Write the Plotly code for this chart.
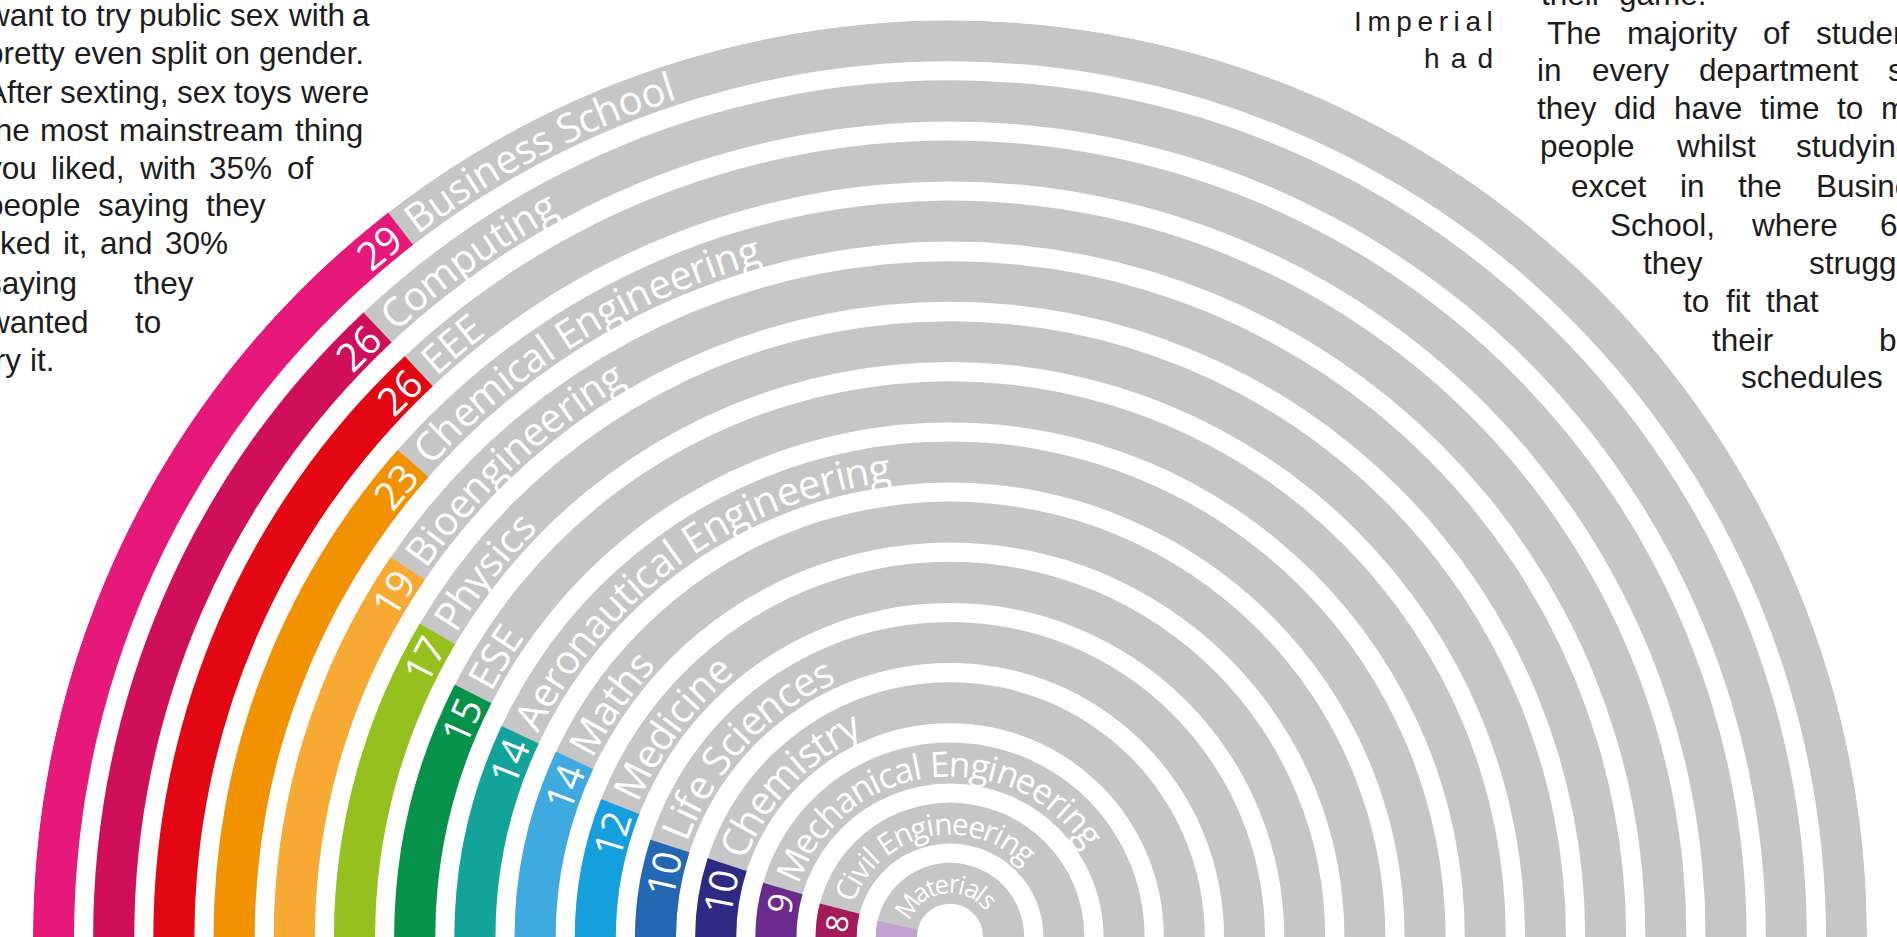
import math
import plotly.graph_objects as go

# ---------------------------------------------------------------- data
departments = [
    "Business School", "Computing", "EEE", "Chemical Engineering",
    "Bioengineering", "Physics", "ESE", "Aeronautical Engineering",
    "Maths", "Medicine", "Life Sciences", "Chemistry",
    "Mechanical Engineering", "Civil Engineering", "Materials",
]
percent = [29, 26, 26, 23, 19, 17, 15, 14, 14, 12, 10, 10, 9, 8, 7]
ring_colors = [
    "#E6197B", "#CF0F5B", "#E30613", "#F39200", "#F7A934",
    "#95C11F", "#07924A", "#14A39B", "#3FAADF", "#169FDD",
    "#2467B2", "#2C2A83", "#6B2A8C", "#A6195A", "#C4A2D0",
]

left_lines = [
    "want to try public sex with a",
    "pretty even split on gender.",
    "After sexting, sex toys were",
    "the most mainstream thing",
    "you liked, with 35% of",
    "people saying they",
    "liked it, and 30%",
    "saying they",
    "wanted to",
    "try it.",
]

right_lines = [
    ["their", "game."],
    ["The", "majority", "of", "students"],
    ["in", "every", "department", "said"],
    ["they", "did", "have", "time", "to", "meet"],
    ["people", "whilst", "studying,"],
    ["excet", "in", "the", "Business"],
    ["School,", "where", "6"],
    ["they", "struggled"],
    ["to", "fit", "that"],
    ["their", "busy"],
    ["schedules"],
]
side_words = ["Imperial", "had"]

# ---------------------------------------------------------------- geometry / style
W, H = 1897, 937
CX, CY = 950, 937            # centre of the half-disc, in page pixels
R_PX = 917                   # outer radius of the outermost ring
PX_PER_UNIT = 60.2           # one ring pitch
R_OUT = R_PX / PX_PER_UNIT
THICK = 41 / PX_PER_UNIT
GREY = "#C6C6C6"
DEG_PER_PCT = 1.8            # 100 % spans the full half circle
LABEL_SIZES = [40] * 12 + [35, 30, 26]
NUMBER_SIZES = [39] * 12 + [34, 30, 26]
TEXT_FONT = "Liberation Sans, Arial, sans-serif"
TEXT_SIZE = 31.5
TEXT_COLOR = "#1c1c1c"

# approximate advance widths (em) for Open Sans (ring labels)
ADV = {' ': 0.26, 'A': 0.633, 'B': 0.647, 'C': 0.631, 'D': 0.729, 'E': 0.556,
       'F': 0.516, 'G': 0.728, 'H': 0.738, 'I': 0.279, 'L': 0.519, 'M': 0.903,
       'P': 0.602, 'S': 0.549, 'a': 0.556, 'b': 0.613, 'c': 0.48, 'd': 0.613,
       'e': 0.561, 'f': 0.336, 'g': 0.546, 'h': 0.614, 'i': 0.258, 'l': 0.258,
       'm': 0.932, 'n': 0.614, 'o': 0.602, 'p': 0.613, 'r': 0.408, 's': 0.479,
       't': 0.348, 'u': 0.614, 'v': 0.501, 'y': 0.501}

# advance widths (em) for Liberation Sans (body copy)
SANS = {'a': .556, 'b': .556, 'c': .5, 'd': .556, 'e': .556, 'f': .278,
        'g': .556, 'h': .556, 'i': .222, 'j': .222, 'k': .5, 'l': .222,
        'm': .833, 'n': .556, 'o': .556, 'p': .556, 'q': .556, 'r': .333,
        's': .5, 't': .278, 'u': .556, 'v': .5, 'w': .722, 'x': .5, 'y': .5,
        'z': .5, 'A': .667, 'T': .611, '%': .889, ',': .278, '.': .278}


def adv(ch):
    return 0.572 if ch.isdigit() else ADV.get(ch, 0.55)


def sans_width(word, size=TEXT_SIZE):
    return sum(0.556 if c.isdigit() else SANS.get(c, 0.556) for c in word) * size


n = len(departments)
outer = [R_OUT - i for i in range(n)]
inner = [o - THICK for o in outer]

fig = go.Figure()

# grey track for every department (full half circle)
fig.add_trace(go.Barpolar(
    r=[THICK] * n, base=inner, theta=[90] * n, width=[180] * n,
    marker=dict(color=GREY, line=dict(width=0)),
    hoverinfo="skip", showlegend=False,
))
# coloured share, starting from the left end of the track
fig.add_trace(go.Barpolar(
    r=[THICK] * n, base=inner,
    theta=[p * DEG_PER_PCT / 2 for p in percent],
    width=[p * DEG_PER_PCT for p in percent],
    marker=dict(color=ring_colors, line=dict(width=0)),
    customdata=departments,
    hovertemplate="%{customdata}<extra></extra>",
    showlegend=False,
))

# invisible cartesian frame sharing the centre and scale of the half-disc,
# used to place the curved ring labels
fig.add_trace(go.Scatter(x=[0], y=[0], mode="markers",
                         marker=dict(opacity=0), hoverinfo="skip",
                         showlegend=False))

annotations = []


def arc_text(text, r_unit, theta_deg, size):
    x = r_unit * math.cos(math.radians(theta_deg))
    y = r_unit * math.sin(math.radians(theta_deg))
    annotations.append(dict(
        x=x, y=y, xref="x", yref="y", text=text, showarrow=False,
        xanchor="center", yanchor="middle", textangle=90 - theta_deg,
        font=dict(family="Open Sans", size=size, color="white"),
    ))


for i, (name, pct) in enumerate(zip(departments, percent)):
    r_mid = (outer[i] + inner[i]) / 2
    r_px = r_mid * PX_PER_UNIT
    end = 180 - pct * DEG_PER_PCT
    # value, read along the arc and ending just before the colour stops
    num = str(pct)
    fs = NUMBER_SIZES[i]
    wnum = sum(adv(c) for c in num) * fs
    arc_text(num, r_mid, end + math.degrees((6 + wnum / 2) / r_px), fs)
    # department name, letter by letter along the grey track
    fs = LABEL_SIZES[i]
    s = 10.0
    for ch in name:
        w = adv(ch) * fs
        if ch != " ":
            arc_text(ch, r_mid, end - math.degrees((s + w / 2) / r_px), fs)
        s += w


def page_text(text, px, py, anchor="left", size=TEXT_SIZE):
    annotations.append(dict(
        x=px / W, y=1 - py / H, xref="paper", yref="paper", text=text,
        showarrow=False, xanchor=anchor, yanchor="middle", borderpad=0,
        font=dict(family=TEXT_FONT, size=size, color=TEXT_COLOR),
    ))


def justified(words, x_left, x_right, py):
    """Lay the words out so the line fills x_left..x_right."""
    widths = [sans_width(w) for w in words]
    if len(words) == 1 or x_right is None:
        gap = 0.278 * TEXT_SIZE
    else:
        gap = (x_right - x_left - sum(widths)) / (len(words) - 1)
    x = x_left
    for w, wd in zip(words, widths):
        page_text(w, x, py)
        x += wd + gap


# left column: justified between a common left margin and the ring
LEFT_MARGIN = -15
left_right = [369, 365, 367, 362, 312, 265, 227, 193, 160, None]
left_y = [15, 53, 92, 130, 168, 205, 243, 283, 322, 360]
for line, xr, y in zip(left_lines, left_right, left_y):
    justified(line.split(" "), LEFT_MARGIN, xr, y)

# right column: one text per word, wrapped around the outer ring
right_x = [
    [1540, 1618],
    [1546, 1626, 1762, 1815],
    [1536, 1591, 1698, 1887],
    [1536, 1613, 1673, 1759, 1836, 1880],
    [1539, 1675, 1795],
    [1570, 1679, 1737, 1815],
    [1609, 1750, 1879],
    [1642, 1808],
    [1682, 1725, 1765],
    [1711, 1878],
    [1740],
]
right_y = [-6, 33, 70, 108, 146, 186, 225, 263, 301, 340, 377]
for words, xs, y in zip(right_lines, right_x, right_y):
    for wd, x in zip(words, xs):
        page_text(wd, x, y)

# spaced-out fragment between the columns
page_text("\u2009".join(side_words[0]), 1494, 21, "right", size=28)
page_text("\u2009\u2009".join(side_words[1]), 1494, 58, "right", size=28)

fig.update_layout(
    width=W, height=H,
    margin=dict(l=0, r=0, t=0, b=0),
    paper_bgcolor="white", plot_bgcolor="rgba(0,0,0,0)",
    polar=dict(
        domain=dict(x=[(CX - R_PX) / W, (CX + R_PX) / W], y=[0, R_PX / H]),
        sector=[0, 180], hole=0, bgcolor="rgba(0,0,0,0)",
        radialaxis=dict(range=[0, R_OUT], visible=False, showgrid=False),
        angularaxis=dict(rotation=180, direction="clockwise", visible=False,
                         showgrid=False),
        bargap=0,
    ),
    xaxis=dict(range=[-CX / PX_PER_UNIT, (W - CX) / PX_PER_UNIT], visible=False,
               domain=[0, 1], fixedrange=True),
    yaxis=dict(range=[(CY - H) / PX_PER_UNIT, CY / PX_PER_UNIT], visible=False,
               domain=[0, 1], fixedrange=True),
    annotations=annotations,
    showlegend=False,
)

fig.write_html("out.html")
